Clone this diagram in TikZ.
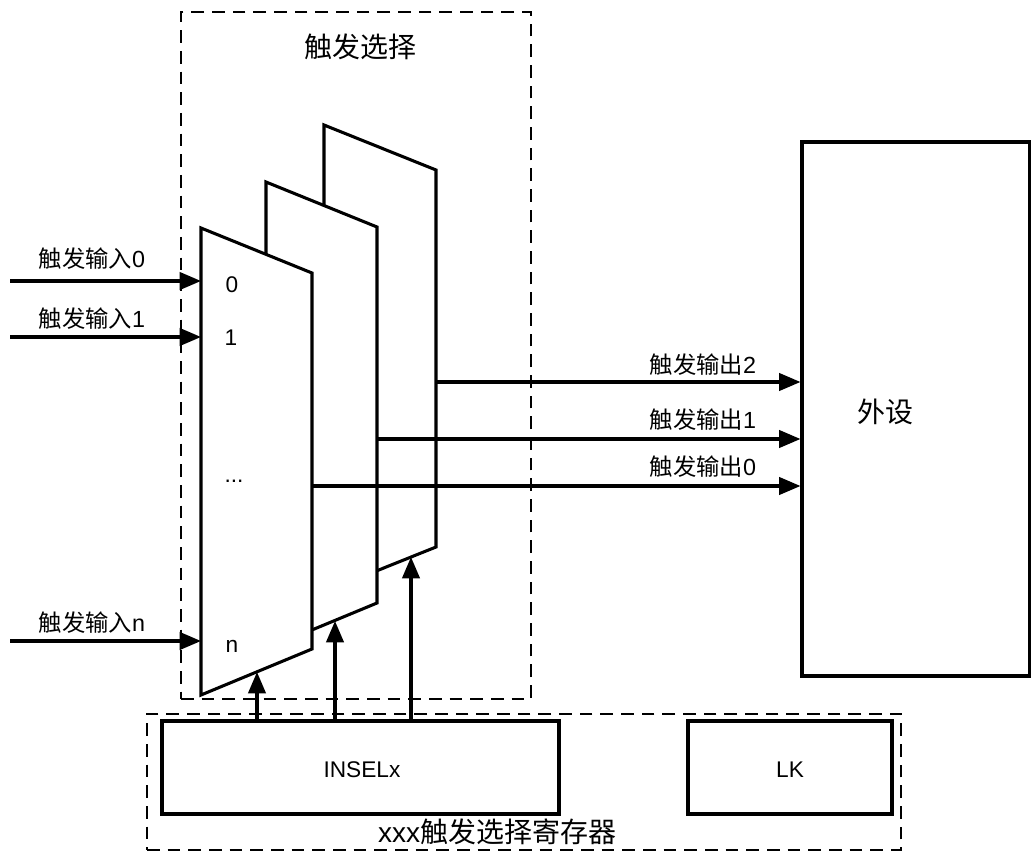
\documentclass[tikz,border=0pt]{standalone}
\usepackage{fontspec}
\setmainfont{Liberation Sans}
\newfontfamily\cjk{Noto Sans CJK SC}
\usetikzlibrary{arrows.meta}
\begin{document}
\begin{tikzpicture}[x=0.75pt,y=-0.75pt,
  heavy/.style={line width=2.3pt},
  dashbox/.style={draw, line width=1.1pt, dash pattern=on 9.5pt off 6pt, inner sep=0pt},
  solidbox/.style={draw, line width=2.3pt, inner sep=0pt},
  muxshape/.style={heavy, fill=white, line join=miter},
  sig/.style={heavy, -{Triangle[length=16pt,width=13pt]}},
  lab/.style={font=\fontsize{17}{19}\selectfont, inner sep=0pt},
  cjklab/.style={font=\fontsize{17.5}{19}\selectfont, inner sep=0pt},
  bigcjk/.style={font=\fontsize{21}{24}\selectfont, inner sep=0pt}]
\useasboundingbox (0,0) rectangle (1031,852);

% dashed frames
\node[dashbox, minimum width=262.5pt, minimum height=515.25pt] (selframe) at (356,355.5) {};
\node[dashbox, minimum width=565.5pt, minimum height=102pt] (regframe) at (524,782) {};
\node[bigcjk] (seltitle) at (360,47) {\cjk 触发选择};

% peripheral box
\node[solidbox, minimum width=170.6pt, minimum height=400.5pt] (periph) at (915.75,409) {};
\node[bigcjk] (periphlab) at (885,412) {\cjk 外设};

% register boxes
\node[solidbox, minimum width=297.75pt, minimum height=69.75pt] (insel) at (360.5,767.5) {};
\node[lab] (insellab) at (362,770) {INSELx};
\node[solidbox, minimum width=153pt, minimum height=69.75pt] (lk) at (790,767.5) {};
\node[lab] (lklab) at (790,770) {LK};
\node[bigcjk] (reglab) at (497,832) {xxx{\cjk 触发选择寄存器}};

% mux corner coordinates
\coordinate (C1) at (324,125); \coordinate (C2) at (436,170);
\coordinate (C3) at (436,547); \coordinate (C4) at (324,592);
\coordinate (B1) at (266,182); \coordinate (B2) at (377,227);
\coordinate (B3) at (377,603); \coordinate (B4) at (266,649);
\coordinate (A1) at (201,228); \coordinate (A2) at (312,273);
\coordinate (A3) at (312,649); \coordinate (A4) at (201,695);

% muxes, back to front
\draw[muxshape] (C1) -- (C2) -- (C3) -- (C4) -- cycle;
\draw[muxshape] (B1) -- (B2) -- (B3) -- (B4) -- cycle;
\draw[muxshape] (A1) -- (A2) -- (A3) -- (A4) -- cycle;

% mux input labels
\node[lab] (m0) at (232,285) {0};
\node[lab] (m1) at (231,338) {1};
\node[lab] (mdots) at (234,481) {...};
\node[lab] (mn) at (232,646) {n};

% inputs
\coordinate (i0) at (10,281);
\coordinate (i1) at (10,337);
\coordinate (in) at (10,641);
\draw[sig] (i0) -- (i0 -| A1);
\draw[sig] (i1) -- (i1 -| A1);
\draw[sig] (in) -- (in -| A1);
\node[cjklab] (li0) at (92,259) {{\cjk 触发输入}0};
\node[cjklab] (li1) at (92,319) {{\cjk 触发输入}1};
\node[cjklab] (lin) at (92,623) {{\cjk 触发输入}n};

% outputs
\coordinate (o2) at (436,382);
\coordinate (o1) at (377,439);
\coordinate (o0) at (312,486);
\draw[sig] (o2) -- (o2 -| periph.west);
\draw[sig] (o1) -- (o1 -| periph.west);
\draw[sig] (o0) -- (o0 -| periph.west);
\node[cjklab] (lo2) at (703,365) {{\cjk 触发输出}2};
\node[cjklab] (lo1) at (703,420) {{\cjk 触发输出}1};
\node[cjklab] (lo0) at (703,467) {{\cjk 触发输出}0};

% select lines
\coordinate (s0) at (257,672);
\coordinate (s1) at (335,621);
\coordinate (s2) at (411,557);
\draw[sig] (insel.north -| s0) -- (s0);
\draw[sig] (insel.north -| s1) -- (s1);
\draw[sig] (insel.north -| s2) -- (s2);
\end{tikzpicture}
\end{document}
